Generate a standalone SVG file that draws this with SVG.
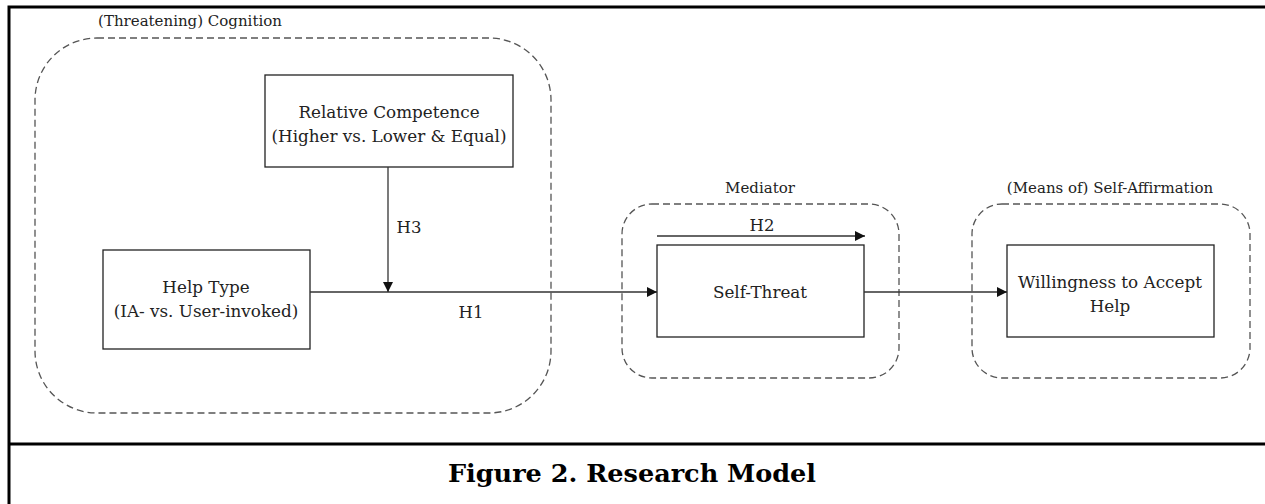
<svg xmlns="http://www.w3.org/2000/svg" width="1265" height="504" viewBox="0 0 1265 504">
<defs>
<style>
.frame{fill:none;stroke:#000;stroke-width:3}
.grp{fill:none;stroke:#555;stroke-width:1.3;stroke-dasharray:7,4}
.box{fill:#fff;stroke:#222;stroke-width:1.3}
.line{fill:none;stroke:#333;stroke-width:1.3}
.g{font-family:"DejaVu Serif","Liberation Serif",serif;font-size:15px;fill:#222;text-anchor:middle}
.t{font-family:"DejaVu Serif","Liberation Serif",serif;font-size:16.8px;fill:#222;text-anchor:middle}
.h{font-family:"DejaVu Serif","Liberation Serif",serif;font-size:16.5px;fill:#222;text-anchor:middle}
.cap{font-family:"DejaVu Serif","Liberation Serif",serif;font-size:24px;font-weight:bold;fill:#000;text-anchor:middle}
</style>
<marker id="arr" viewBox="0 0 10 10" refX="10" refY="5" markerWidth="10" markerHeight="10" markerUnits="userSpaceOnUse" orient="auto">
<path d="M0,0 L10,5 L0,10 z" fill="#111"/>
</marker>
</defs>
<rect width="1265" height="504" fill="#fff"/>
<g id="frame">
<path class="frame" d="M9,504 L9,7 L1265,7 M9,444 L1265,444"/>
</g>
<g id="group-cognition">
<rect class="grp" x="35" y="38" width="516" height="375" rx="62" ry="62"/>
<text class="g" x="190" y="26">(Threatening) Cognition</text>
</g>
<g id="group-mediator">
<rect class="grp" x="622" y="204" width="277" height="174" rx="30" ry="30"/>
<text class="g" x="760" y="193">Mediator</text>
</g>
<g id="group-affirmation">
<rect class="grp" x="972" y="204" width="278" height="174" rx="30" ry="30"/>
<text class="g" x="1110" y="193">(Means of) Self-Affirmation</text>
</g>
<g id="node-relative-competence">
<rect class="box" x="265" y="75" width="248" height="92"/>
<text class="t" x="389" y="118">Relative Competence</text>
<text class="t" x="389" y="142">(Higher vs. Lower &amp; Equal)</text>
</g>
<g id="node-help-type">
<rect class="box" x="103" y="250" width="207" height="99"/>
<text class="t" x="206" y="293">Help Type</text>
<text class="t" x="206" y="317">(IA- vs. User-invoked)</text>
</g>
<g id="node-self-threat">
<rect class="box" x="657" y="245" width="207" height="92"/>
<text class="t" x="760" y="298">Self-Threat</text>
</g>
<g id="node-willingness">
<rect class="box" x="1007" y="245" width="207" height="92"/>
<text class="t" x="1110" y="288">Willingness to Accept</text>
<text class="t" x="1110" y="312">Help</text>
</g>
<g id="connectors">
<path class="line" d="M310,292 L657,292" marker-end="url(#arr)"/>
<path class="line" d="M388,167 L388,292" marker-end="url(#arr)"/>
<path class="line" d="M657,236 L865,236" marker-end="url(#arr)"/>
<path class="line" d="M864,292 L1007,292" marker-end="url(#arr)"/>
<text class="h" x="409" y="233">H3</text>
<text class="h" x="471" y="318">H1</text>
<text class="h" x="762" y="231">H2</text>
</g>
<g id="caption">
<text class="cap" x="632" y="482" textLength="368" lengthAdjust="spacingAndGlyphs">Figure 2. Research Model</text>
</g>
</svg>
